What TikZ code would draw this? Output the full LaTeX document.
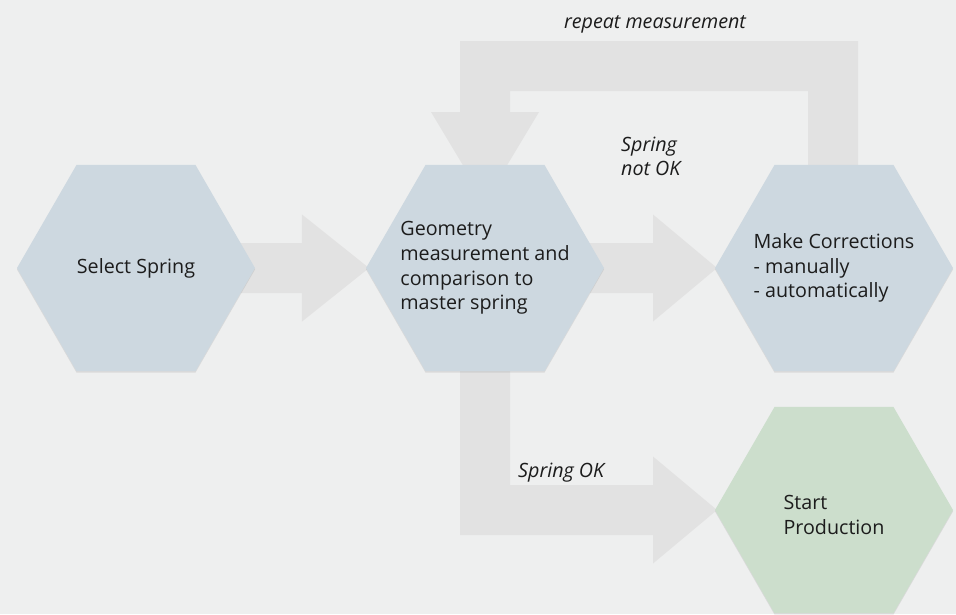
\documentclass[tikz,border=0pt]{standalone}
\usepackage{fontspec}
\setmainfont{Open Sans}
\usetikzlibrary{shapes.geometric,shadows,backgrounds,calc}
\definecolor{bg}{RGB}{238,239,239}
\definecolor{arrowgray}{RGB}{226,226,226}
\definecolor{hexblue}{RGB}{205,216,224}
\definecolor{hexgreen}{RGB}{204,222,204}
\definecolor{ink}{RGB}{28,28,28}
\begin{document}
\begin{tikzpicture}[x=1pt,y=-1pt,
  hexbox/.style={regular polygon, regular polygon sides=6, minimum size=238pt,
    inner sep=0pt, outer sep=0pt, fill=hexblue,
    drop shadow={shadow xshift=0pt, shadow yshift=-1.5pt, opacity=0.18}},
  hextext/.style={inner sep=0pt, text=ink, align=left,
    font=\fontsize{19.7}{24.8}\selectfont},
  lbl/.style={inner sep=0pt, text=ink, font=\fontsize{19.7}{24}\selectfont\itshape},
  blockarrow/.style={fill=arrowgray}]
\useasboundingbox (0,0) rectangle (956,614);
% hexagons
\node[hexbox] (h1) at (136,268) {};
\node[hexbox] (h2) at (485,268) {};
\node[hexbox] (h3) at (834,268) {};
\node[hexbox, fill=hexgreen] (h4) at (834,510) {};
\node[hextext] (t1) at (h1.center) {Select Spring};
\node[hextext] (t2) at (h2.center) {Geometry\\measurement and\\comparison to\\master spring};
\node[hextext] (t3) at (h3.center) {Make Corrections\\- manually\\- automatically};
\node[hextext, yshift=-5pt] (t4) at (h4.center) {Start\\Production};
\coordinate (looptop) at (660,66);
% labels
\node[lbl, anchor=base] (rep) at (655,28) {repeat measurement};
\node[lbl, anchor=base west, align=left] (notok) at (621,175) {Spring\\not OK};
\node[lbl, anchor=base west] (ok) at (518,477) {Spring OK};
\begin{scope}[on background layer]
\fill[bg] (0,0) rectangle (956,614);
% select -> geometry
\fill[blockarrow] let \p1=(h1.center), \p2=(h2.west) in
  (\x1,\y1+25pt) -- (\x2-64pt,\y1+25pt) -- (\x2-64pt,\y1+53.5pt) -- (\x2+3pt,\y1)
  -- (\x2-64pt,\y1-53.5pt) -- (\x2-64pt,\y1-25pt) -- (\x1,\y1-25pt) -- cycle;
% geometry -> corrections
\fill[blockarrow] let \p1=(h2.center), \p2=(h3.west) in
  (\x1,\y1+25pt) -- (\x2-62pt,\y1+25pt) -- (\x2-62pt,\y1+53.5pt) -- (\x2+2pt,\y1)
  -- (\x2-62pt,\y1-53.5pt) -- (\x2-62pt,\y1-25pt) -- (\x1,\y1-25pt) -- cycle;
% geometry -> start production
\fill[blockarrow] let \p1=(h2.center), \p2=(h4.west) in
  (\x1-25pt,\y1) -- (\x1-25pt,\y2-25pt) -- (\x2-62pt,\y2-25pt) -- (\x2-62pt,\y2-53.5pt)
  -- (\x2+2pt,\y2) -- (\x2-62pt,\y2+53.5pt) -- (\x2-62pt,\y2+25pt) -- (\x1+25pt,\y2+25pt)
  -- (\x1+25pt,\y1) -- cycle;
% corrections -> geometry (repeat loop)
\fill[blockarrow] let \p1=(h3.center), \p2=(h2.center), \p3=(looptop) in
  (\x1-26pt,\y1) -- (\x1-26pt,\y3-25pt) -- (\x2+25pt,\y3-25pt) -- (\x2+25pt,\y3-46pt)
  -- (\x2+54pt,\y3-46pt) -- (\x2,\y3-136pt) -- (\x2-54pt,\y3-46pt) -- (\x2-25pt,\y3-46pt)
  -- (\x2-25pt,\y3+25pt) -- (\x1+24pt,\y3+25pt) -- (\x1+24pt,\y1) -- cycle;
\end{scope}
\end{tikzpicture}
\end{document}
